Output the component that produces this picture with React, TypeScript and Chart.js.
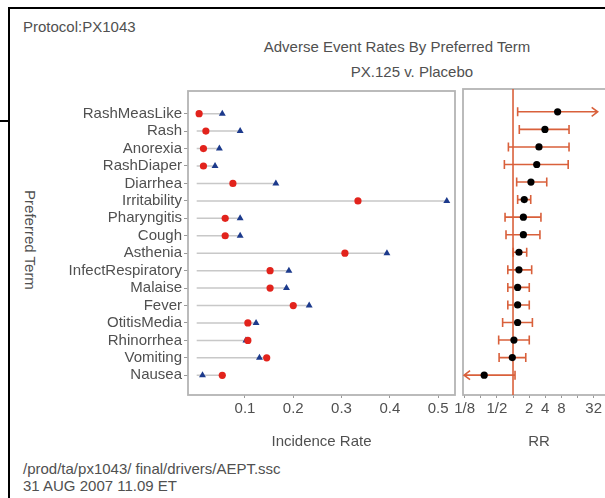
import React, { useEffect, useRef } from "react";
import { Chart, registerables } from "chart.js";

Chart.register(...registerables);

// ---------- data ----------
const terms = [
  "RashMeasLike", "Rash", "Anorexia", "RashDiaper", "Diarrhea", "Irritability",
  "Pharyngitis", "Cough", "Asthenia", "InfectRespiratory", "Malaise", "Fever",
  "OtitisMedia", "Rhinorrhea", "Vomiting", "Nausea",
];
// red circles
const placeboRates = [0.005, 0.019, 0.014, 0.014, 0.075, 0.334, 0.059, 0.059, 0.307, 0.152, 0.152, 0.2, 0.106, 0.106, 0.145, 0.053];
// blue triangles
const px125Rates = [0.053, 0.09, 0.047, 0.038, 0.164, 0.518, 0.09, 0.09, 0.394, 0.191, 0.186, 0.233, 0.123, 0.102, 0.13, 0.012];
// relative risk and its confidence interval
const rrPoint = [6.8, 3.94, 3.05, 2.77, 2.16, 1.62, 1.56, 1.56, 1.29, 1.29, 1.22, 1.22, 1.22, 1.04, 0.97, 0.29];
const rrLower = [1.22, 1.31, 0.82, 0.69, 1.17, 1.22, 0.71, 0.74, 1.01, 0.8, 0.8, 0.8, 0.64, 0.54, 0.55, 0.08];
const rrUpper = [60, 11.1, 11.1, 10.7, 4.26, 2.14, 3.32, 3.18, 1.8, 2.23, 2.01, 2.01, 2.3, 2.01, 1.73, 1.09];
const rrClip = [0.122, 38];
const rrAxisRange = [0.1166, 80];
const rrTicks = [1 / 8, 1 / 4, 1 / 2, 1, 2, 4, 8, 16, 32];
const rrTickLabels = ["1/8", "", "1/2", "", "2", "4", "8", "", "32"];
const rateTicks = [0.1, 0.2, 0.3, 0.4, 0.5];
const rateTickLabels = ["0.1", "0.2", "0.3", "0.4", "0.5"];
const rateAxisRange = [-0.018, 0.535];
const rowRange = [-1.3, 16.13];

// ---------- style ----------
const FONT = "'Liberation Sans', Arial, sans-serif";
const TEXT = "#505050";
const RED = "#e2231c";
const BLUE = "#1c3a8c";
const CI = "#d9603b";
const PANEL = "#b4b4b4";
const SEG = "#c8c8c8";
const TICK = "#999";

const font15 = { family: FONT, size: 15 };

function boxPlugin(id: string) {
  return {
    id,
    beforeDatasetsDraw(chart: any) {
      const { ctx, chartArea: ca } = chart;
      ctx.save();
      ctx.strokeStyle = PANEL;
      ctx.lineWidth = 1.8;
      ctx.strokeRect(ca.left, ca.top, ca.right - ca.left, ca.bottom - ca.top);
      ctx.restore();
    },
  };
}

const rrPlugin = {
  id: "rrBars",
  beforeDatasetsDraw(chart: any) {
    const { ctx, chartArea: ca } = chart;
    const xs = chart.scales.x;
    const ys = chart.scales.y;
    ctx.save();
    ctx.strokeStyle = CI;
    ctx.lineWidth = 1.6;
    const x1 = xs.getPixelForValue(0);
    ctx.beginPath();
    ctx.moveTo(x1, ca.top);
    ctx.lineTo(x1, ca.bottom);
    ctx.stroke();
    const cap = 4.5;
    terms.forEach((_, i) => {
      const y = ys.getPixelForValue(i);
      const loT = rrLower[i] < rrClip[0];
      const hiT = rrUpper[i] > rrClip[1];
      const lo = xs.getPixelForValue(Math.log2(Math.max(rrLower[i], rrClip[0])));
      const hi = xs.getPixelForValue(Math.log2(Math.min(rrUpper[i], rrClip[1])));
      ctx.beginPath();
      ctx.moveTo(lo, y);
      ctx.lineTo(hi, y);
      if (loT) {
        ctx.moveTo(lo + 6, y - cap);
        ctx.lineTo(lo, y);
        ctx.lineTo(lo + 6, y + cap);
      } else {
        ctx.moveTo(lo, y - cap);
        ctx.lineTo(lo, y + cap);
      }
      if (hiT) {
        ctx.moveTo(hi - 6, y - cap);
        ctx.lineTo(hi, y);
        ctx.lineTo(hi - 6, y + cap);
      } else {
        ctx.moveTo(hi, y - cap);
        ctx.lineTo(hi, y + cap);
      }
      ctx.stroke();
    });
    ctx.restore();
  },
};

export default function App() {
  const leftRef = useRef<HTMLCanvasElement>(null);
  const rightRef = useRef<HTMLCanvasElement>(null);

  useEffect(() => {
    const rowAxis = (display: boolean, width: number) => ({
      type: "linear" as const,
      display,
      reverse: true,
      min: rowRange[0],
      max: rowRange[1],
      afterBuildTicks: (s: any) => {
        s.ticks = terms.map((_, i) => ({ value: i }));
      },
      afterFit: (s: any) => {
        s.width = width;
      },
      grid: { drawOnChartArea: false, drawTicks: true, tickLength: 4, color: TICK, lineWidth: 1 },
      border: { display: false },
      ticks: {
        autoSkip: false,
        padding: 2,
        color: TEXT,
        font: font15,
        callback: (v: any) => terms[v as number],
      },
    });

    const left = new Chart(leftRef.current as HTMLCanvasElement, {
      type: "scatter",
      data: {
        datasets: [
          {
            label: "Placebo",
            data: terms.map((_, i) => ({ x: placeboRates[i], y: i })),
            pointStyle: "circle",
            pointRadius: 3.6,
            backgroundColor: RED,
            borderColor: RED,
            borderWidth: 0,
          },
          {
            label: "PX.125",
            data: terms.map((_, i) => ({ x: px125Rates[i], y: i })),
            pointStyle: "triangle",
            pointRadius: 4,
            backgroundColor: BLUE,
            borderColor: BLUE,
            borderWidth: 0,
          },
          {
            label: "segments",
            data: terms.flatMap((_, i) => [
              { x: 0, y: i },
              { x: Math.max(placeboRates[i], px125Rates[i]), y: i },
              { x: 0, y: null as any },
            ]),
            showLine: true,
            spanGaps: false,
            borderColor: SEG,
            borderWidth: 1.5,
            pointRadius: 0,
          },
        ],
      },
      options: {
        animation: false,
        responsive: false,
        layout: { padding: { left: 0, right: 5, top: 9, bottom: 5 } },
        plugins: { legend: { display: false }, tooltip: { enabled: false } },
        scales: {
          x: {
            type: "linear",
            min: rateAxisRange[0],
            max: rateAxisRange[1],
            afterBuildTicks: (s: any) => {
              s.ticks = rateTicks.map((v) => ({ value: v }));
            },
            afterFit: (s: any) => {
              s.height = 60;
            },
            grid: { drawOnChartArea: false, drawTicks: true, tickLength: 3, color: TICK },
            border: { display: false },
            ticks: {
              autoSkip: false,
              maxRotation: 0,
              padding: 2,
              color: TEXT,
              font: font15,
              callback: (v: any) => rateTickLabels[rateTicks.indexOf(v as number)] ?? "",
            },
            title: {
              display: true,
              text: "Incidence Rate",
              color: TEXT,
              font: font15,
              padding: { top: 0, bottom: 4 },
            },
          },
          y: rowAxis(true, 188) as any,
        },
      },
      plugins: [boxPlugin("leftBox")],
    });

    const right = new Chart(rightRef.current as HTMLCanvasElement, {
      type: "scatter",
      data: {
        datasets: [
          {
            label: "RR",
            data: terms.map((_, i) => ({ x: Math.log2(rrPoint[i]), y: i })),
            pointStyle: "circle",
            pointRadius: 3.6,
            backgroundColor: "#000",
            borderColor: "#000",
            borderWidth: 0,
          },
        ],
      },
      options: {
        animation: false,
        responsive: false,
        layout: { padding: { left: 23, right: 13, top: 9, bottom: 5 } },
        plugins: { legend: { display: false }, tooltip: { enabled: false } },
        scales: {
          x: {
            type: "linear",
            min: Math.log2(rrAxisRange[0]),
            max: Math.log2(rrAxisRange[1]),
            afterBuildTicks: (s: any) => {
              s.ticks = rrTicks.map((v) => ({ value: Math.log2(v) }));
            },
            afterFit: (s: any) => {
              s.height = 60;
            },
            grid: { drawOnChartArea: false, drawTicks: true, tickLength: 3, color: TICK },
            border: { display: false },
            ticks: {
              autoSkip: false,
              maxRotation: 0,
              padding: 2,
              color: TEXT,
              font: font15,
              callback: (v: any) => {
                const idx = rrTicks.findIndex((t) => Math.abs(Math.log2(t) - (v as number)) < 1e-6);
                return idx >= 0 ? rrTickLabels[idx] : "";
              },
            },
            title: {
              display: true,
              text: "RR",
              color: TEXT,
              font: font15,
              padding: { top: 0, bottom: 4 },
            },
          },
          y: rowAxis(false, 0) as any,
        },
      },
      plugins: [boxPlugin("rightBox"), rrPlugin],
    });

    return () => {
      left.destroy();
      right.destroy();
    };
  }, []);

  const txt: React.CSSProperties = {
    position: "absolute",
    fontSize: 15,
    lineHeight: "18px",
    whiteSpace: "nowrap",
    color: TEXT,
  };

  return (
    <div
      style={{
        position: "fixed",
        left: 0,
        top: 0,
        width: 605,
        height: 498,
        overflow: "hidden",
        background: "#fff",
        fontFamily: FONT,
      }}
    >
      <div
        style={{
          position: "absolute",
          left: 8,
          top: 7,
          width: 700,
          height: 600,
          borderLeft: "2px solid #000",
          borderTop: "2px solid #000",
        }}
      />
      <div style={{ position: "absolute", left: 0, top: 120, width: 9, height: 2, background: "#000" }} />
      <div style={{ ...txt, left: 23, top: 18 }}>Protocol:PX1043</div>
      <div style={{ ...txt, left: 197, top: 38, width: 400, textAlign: "center" }}>
        Adverse Event Rates By Preferred Term
      </div>
      <div style={{ ...txt, left: 212, top: 63, width: 400, textAlign: "center" }}>PX.125 v. Placebo</div>
      <div
        style={{
          ...txt,
          left: -30,
          top: 231,
          width: 120,
          textAlign: "center",
          transform: "rotate(90deg)",
          transformOrigin: "50% 50%",
        }}
      >
        Preferred Term
      </div>
      <canvas
        ref={leftRef}
        width={460}
        height={380}
        style={{ position: "absolute", left: 0, top: 80, width: 460, height: 380 }}
      />
      <canvas
        ref={rightRef}
        width={188}
        height={380}
        style={{ position: "absolute", left: 440, top: 80, width: 188, height: 380 }}
      />
      <div style={{ ...txt, left: 23, top: 460 }}>/prod/ta/px1043/ final/drivers/AEPT.ssc</div>
      <div style={{ ...txt, left: 23, top: 477 }}>31 AUG 2007 11.09 ET</div>
    </div>
  );
}
